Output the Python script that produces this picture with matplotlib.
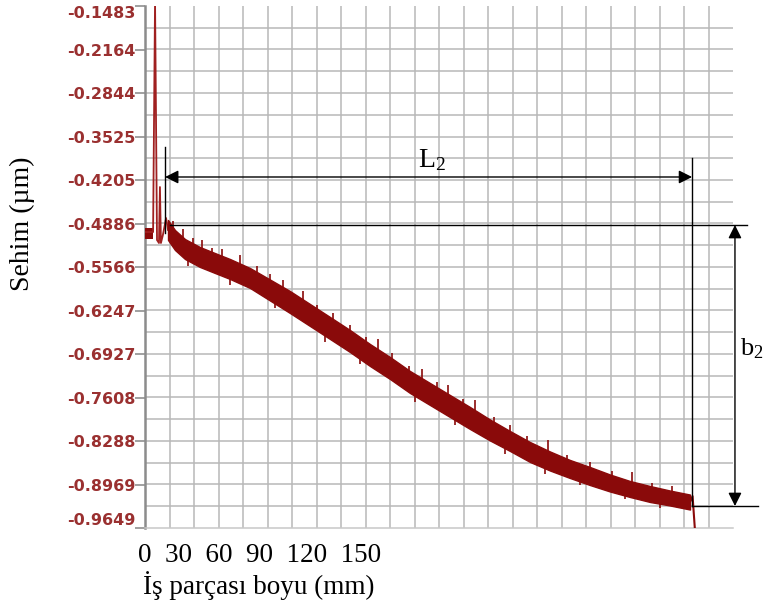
import numpy as np
import matplotlib
matplotlib.use("Agg")
import matplotlib.pyplot as plt

plt.rcParams['mathtext.fontset'] = 'custom'
plt.rcParams['mathtext.rm'] = 'Liberation Serif'
plt.rcParams['mathtext.it'] = 'Liberation Serif:italic'

# ---------------- data ----------------
y_ticks = [-0.1483, -0.2164, -0.2844, -0.3525, -0.4205, -0.4886, -0.5566,
           -0.6247, -0.6927, -0.7608, -0.8288, -0.8969, -0.9649]
x_tick_labels = ['0', '30', '60', '90', '120', '150']

# start of the record (flat part, spikes)
start_x = [0.0, 3.3, 4.1, 4.9, 5.7, 6.1, 6.5, 7.3, 8.6, 9.4]
start_y = [-0.5019, -0.5019, -0.1400, -0.5144, -0.5191, -0.4315, -0.5191,
           -0.5066, -0.4800, -0.4987]
block_x = [0.0, 3.3]
block_upper = [-0.4956, -0.4956]
block_lower = [-0.5128, -0.5128]

# main noisy band: centre line and half thickness
band_x = [9.39, 12.24, 16.33, 22.45, 28.57, 34.69, 42.86, 51.02, 59.18,
          67.35, 75.51, 83.67, 91.84, 100.00, 108.16, 116.33, 124.49,
          132.65, 140.82, 148.98, 157.14, 165.31, 173.47, 181.63, 189.80,
          197.96, 206.12, 214.29, 222.45]
band_center = [-0.4987, -0.5144, -0.5285, -0.5410, -0.5504, -0.5597, -0.5738,
               -0.5926, -0.6114, -0.6317, -0.6520, -0.6724, -0.6943, -0.7146,
               -0.7365, -0.7553, -0.7741, -0.7928, -0.8116, -0.8288, -0.8460,
               -0.8601, -0.8726, -0.8836, -0.8945, -0.9039, -0.9117, -0.9180,
               -0.9243]
band_half = [0.0156, 0.0156, 0.0156, 0.0156, 0.0156, 0.0156, 0.0156, 0.0164,
             0.0172, 0.0172, 0.0172, 0.0172, 0.0172, 0.0172, 0.0172, 0.0172,
             0.0172, 0.0172, 0.0164, 0.0156, 0.0156, 0.0149, 0.0141, 0.0141,
             0.0133, 0.0125, 0.0125, 0.0117, 0.0117]

# upward spikes (tips)
up_x = [11.43, 15.51, 19.59, 23.27, 27.35, 31.43, 38.78, 45.71, 51.02, 56.33,
        64.49, 70.20, 76.73, 83.67, 90.20, 95.10, 100.82, 107.76, 113.06,
        119.18, 123.67, 129.80, 134.69, 142.45, 148.98, 155.92, 164.49,
        172.24, 181.63, 190.61, 198.78, 206.94, 215.10]
up_tip = [-0.4846, -0.4972, -0.5112, -0.5144, -0.5269, -0.5285, -0.5386,
          -0.5550, -0.5683, -0.5769, -0.5934, -0.6153, -0.6286, -0.6473,
          -0.6661, -0.6692, -0.6911, -0.7115, -0.7162, -0.7365, -0.7412,
          -0.7631, -0.7647, -0.7920, -0.8038, -0.8210, -0.8280, -0.8507,
          -0.8617, -0.8757, -0.8773, -0.8945, -0.8992]
# downward spikes (tips)
down_x = [17.55, 34.69, 53.06, 73.47, 87.76, 110.20, 126.53, 146.94, 163.27,
          177.55, 195.92, 210.20]
down_tip = [-0.5543, -0.5848, -0.6215, -0.6739, -0.7084, -0.7678, -0.8038,
            -0.8484, -0.8797, -0.8984, -0.9203, -0.9336]

# end of the record
end_x = [222.45, 223.5, 224.5]
end_y = [-0.9243, -0.9150, -0.9700]

# annotation geometry (data units)
L2_x0, L2_x1, L2_y = 8.2, 223.3, -0.4158
left_line_x, left_line_y0, left_line_y1 = 8.2, -0.3689, -0.5034
right_line_x, right_line_y0, right_line_y1 = 223.3, -0.3860, -0.9305
top_line_y, top_line_x0, top_line_x1 = -0.4909, 10.2, 245.7
bot_line_y, bot_line_x0, bot_line_x1 = -0.9305, 223.3, 250.2
b2_x = 240.8

trace_color = '#8a0a0a'
tick_color = '#9a3030'
grid_color = '#b8b8b8'

fig = plt.figure(figsize=(7.71, 6.14), dpi=100)
ax = fig.add_axes([145 / 771, 1 - 528 / 614, 588 / 771, 522 / 614])
ax.set_xlim(0, 240)
ax.set_ylim(y_ticks[-1], y_ticks[0])

# grid
step = (y_ticks[0] - y_ticks[-1]) / 24
for k in range(1, 24):
    ax.axhline(y_ticks[-1] + k * step, color=grid_color, lw=1.1, zorder=0)
for k in range(1, 24):
    ax.axvline(10 * k, color=grid_color, lw=1.1, zorder=0)

# data
bc = np.array(band_center)
bh = np.array(band_half)
ax.fill_between(block_x, block_lower, block_upper, color=trace_color, lw=0, zorder=3)
ax.plot(start_x, start_y, color='#a02020', lw=1.3, zorder=3)
ax.fill_between(band_x, bc - bh, bc + bh, color=trace_color, lw=1.0,
                edgecolor=trace_color, zorder=3)
ax.vlines(up_x, np.interp(up_x, band_x, bc), up_tip, color=trace_color,
          lw=1.2, zorder=3)
ax.vlines(down_x, np.interp(down_x, band_x, bc), down_tip, color=trace_color,
          lw=1.2, zorder=3)
ax.plot(end_x, end_y, color=trace_color, lw=1.5, zorder=3)

# axes styling
ax.set_xticks([])
ax.set_yticks(y_ticks)
ax.set_yticklabels([f'{v:.4f}' for v in y_ticks], color=tick_color,
                   fontsize=11.5, fontweight='bold', family='DejaVu Sans')
ax.tick_params(axis='y', length=7, width=1.3, color='#999999', pad=0)
labels = ax.get_yticklabels()
labels[0].set_va('top')
labels[-1].set_va('bottom')
for s in ['top', 'right']:
    ax.spines[s].set_visible(False)
ax.spines['left'].set_color('#8c8c8c')
ax.spines['left'].set_linewidth(1.8)
ax.spines['bottom'].set_color('#c8c8c8')
ax.spines['bottom'].set_linewidth(1.1)

# annotations
kw = dict(color='black', lw=1.0, clip_on=False, zorder=5)
ax.plot([left_line_x, left_line_x], [left_line_y0, left_line_y1], **kw)
ax.plot([right_line_x, right_line_x], [right_line_y0, right_line_y1], **kw)
ax.plot([top_line_x0, top_line_x1], [top_line_y, top_line_y], **kw)
ax.plot([bot_line_x0, bot_line_x1], [bot_line_y, bot_line_y], **kw)
ax.annotate('', xy=(L2_x0, L2_y), xytext=(L2_x1, L2_y),
            arrowprops=dict(arrowstyle='<|-|>', color='black', lw=1.0,
                            mutation_scale=20, shrinkA=0, shrinkB=0),
            annotation_clip=False, zorder=6)
ax.annotate('', xy=(b2_x, top_line_y), xytext=(b2_x, bot_line_y),
            arrowprops=dict(arrowstyle='<|-|>', color='black', lw=1.0,
                            mutation_scale=20, shrinkA=0, shrinkB=0),
            annotation_clip=False, zorder=6)
ax.text(117.1, -0.4002, r'$\mathrm{L}_{2}$', fontsize=20, ha='center',
        va='baseline', clip_on=False)
ax.text(242.9, -0.6943, r'$\mathrm{b}_{2}$', fontsize=19, ha='left',
        va='baseline', clip_on=False)

serif = ['Liberation Serif', 'DejaVu Serif']
fig.text(138 / 771, 1 - 555 / 614, '  '.join(x_tick_labels), family=serif,
         fontsize=19.5, ha='left', va='center')
fig.text(143 / 771, 1 - 586 / 614, 'İş parçası boyu (mm)', family=serif,
         fontsize=19.5, ha='left', va='center')
fig.text(22 / 771, 1 - 224 / 614, 'Sehim (µm)', family=serif, fontsize=20,
         rotation=90, ha='center', va='center')

fig.savefig('out.png', dpi=100)
